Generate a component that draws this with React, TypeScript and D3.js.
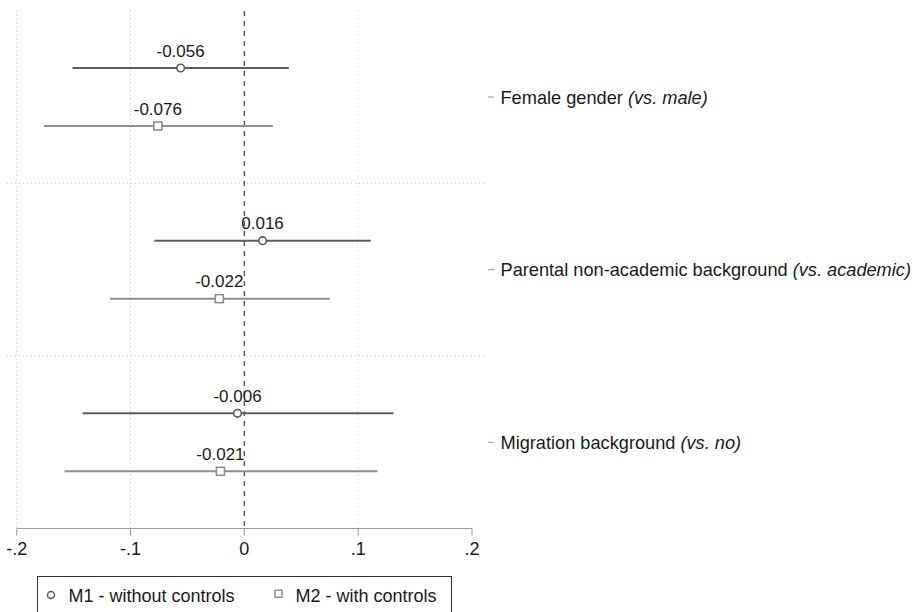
import React from "react";
import * as d3 from "d3";

const categories = ["Female gender", "Parental non-academic background", "Migration background"];
const references = ["(vs. male)", "(vs. academic)", "(vs. no)"];
const models = ["M1 - without controls", "M2 - with controls"];
const m1Est = [-0.056, 0.016, -0.006];
const m1Lo = [-0.151, -0.079, -0.142];
const m1Hi = [0.039, 0.111, 0.131];
const m2Est = [-0.076, -0.022, -0.021];
const m2Lo = [-0.176, -0.118, -0.158];
const m2Hi = [0.025, 0.075, 0.117];
const xTicks = [-0.2, -0.1, 0, 0.1, 0.2];
const xTickLabels = ["-.2", "-.1", "0", ".1", ".2"];
const gridTicks = [-0.2, -0.1, 0.1];

const W = 917;
const H = 612;
const FONT = "'Liberation Sans', Arial, Helvetica, sans-serif";
const C1 = "#5c5c5c";
const C2 = "#8f8f8f";

export default function App() {
  const x = d3.scaleLinear().domain([-0.2, 0.2]).range([16.7, 472]);
  const plotLeft = 7;
  const plotRight = 487;
  const y = d3.scaleBand().domain(categories).range([10.7, 528.6]).padding(0);
  const off = d3.scalePoint().domain(["M1", "M2"]).range([-29, 29]);
  const axisY = 528.6;

  const series = [
    { key: "M1", est: m1Est, lo: m1Lo, hi: m1Hi, color: C1, shape: "circle" },
    { key: "M2", est: m2Est, lo: m2Lo, hi: m2Hi, color: C2, shape: "square" },
  ];

  const fmt = (v: number) => d3.format(".3f")(v).replace("\u2212", "-");
  const bw = y.bandwidth();

  return (
    <svg width={W} height={H} style={{ position: "absolute", left: 0, top: 0, background: "#fff" }} fontFamily={FONT}>
      <rect x={0} y={0} width={W} height={H} fill="#fff" />
      {gridTicks.map((t) => (
        <line key={"g" + t} x1={x(t)} x2={x(t)} y1={y.range()[0]} y2={axisY} stroke="#c8c8c8" strokeWidth={1} strokeDasharray="1 3" />
      ))}
      {categories.slice(1).map((c) => (
        <line key={"s" + c} x1={plotLeft} x2={plotRight} y1={y(c)!} y2={y(c)!} stroke="#c8c8c8" strokeWidth={1} strokeDasharray="1 3" />
      ))}
      <line x1={x(0)} x2={x(0)} y1={11} y2={axisY} stroke="#5a5a5a" strokeWidth={1.5} strokeDasharray="5 5" />
      {series.map((s) =>
        categories.map((c, i) => {
          const cy = y(c)! + bw / 2 + off(s.key)!;
          const cx = x(s.est[i]);
          return (
            <g key={s.key + c}>
              <line x1={x(s.lo[i])} x2={x(s.hi[i])} y1={cy} y2={cy} stroke={s.color} strokeWidth={2} />
              {s.shape === "circle" ? (
                <circle cx={cx} cy={cy} r={3.8} fill="#fff" stroke={s.color} strokeWidth={1.6} />
              ) : (
                <rect x={cx - 4} y={cy - 4} width={8} height={8} fill="#fff" stroke={s.color} strokeWidth={1.6} />
              )}
              <text x={cx} y={cy - 11.5} textAnchor="middle" fontSize={17} fill="#1a1a1a">
                {fmt(s.est[i])}
              </text>
            </g>
          );
        })
      )}
      {categories.map((c, i) => {
        const cy = y(c)! + bw / 2;
        return (
          <g key={"r" + c}>
            <line x1={plotRight + 1} x2={plotRight + 7} y1={cy} y2={cy} stroke="#999" strokeWidth={1} />
            <text x={500.5} y={cy + 6.5} fontSize={18.2} fill="#1a1a1a">
              {c + " "}
              <tspan fontStyle="italic">{references[i]}</tspan>
            </text>
          </g>
        );
      })}
      <line x1={x(-0.2)} x2={x(0.2)} y1={axisY} y2={axisY} stroke="#999" strokeWidth={1} />
      {xTicks.map((t, i) => (
        <g key={"t" + t}>
          <line x1={x(t)} x2={x(t)} y1={axisY} y2={axisY + 7} stroke="#999" strokeWidth={1} />
          <text x={x(t)} y={555} textAnchor="middle" fontSize={18} fill="#1a1a1a">
            {xTickLabels[i]}
          </text>
        </g>
      ))}
      <rect x={37.5} y={576.5} width={414} height={50} fill="#fff" stroke="#333" strokeWidth={1} />
      <circle cx={51} cy={595} r={3.5} fill="#fff" stroke={C1} strokeWidth={1.5} />
      <text x={68.5} y={602} fontSize={18} fill="#1a1a1a">{models[0]}</text>
      <rect x={275} y={590.3} width={7} height={7} fill="#fff" stroke={C2} strokeWidth={1.5} />
      <text x={295.5} y={602} fontSize={18} fill="#1a1a1a">{models[1]}</text>
    </svg>
  );
}
